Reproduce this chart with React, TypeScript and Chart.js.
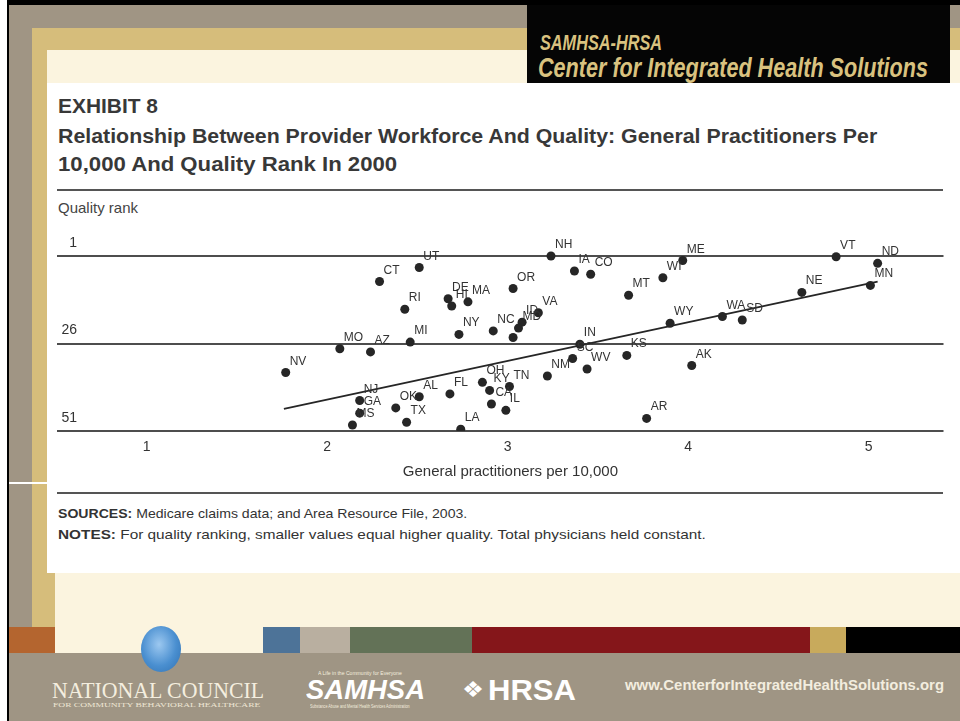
import React, { useEffect, useRef } from 'react';
import { Chart, registerables } from 'chart.js';

Chart.register(...registerables);

// ---------------- data ----------------
const states = ['UT','CT','RI','DE','HI','MA','NY','MI','MO','AZ','NV','NJ','GA','MS','AL','OK','TX','FL','LA',
  'NH','IA','CO','OR','MT','WI','ME','VA','NC','ID','MD','PA','IN','SC','WV','NM','KS','OH','KY','TN','CA','IL','AR',
  'AK','WY','WA','SD','NE','VT','ND','MN'];
const unlabeledStates = ['PA'];
const gpPer10k = [2.51,2.29,2.43,2.67,2.69,2.78,2.73,2.46,2.07,2.24,1.77,2.18,2.18,2.14,2.51,2.38,2.44,2.68,2.74,
  3.24,3.37,3.46,3.03,3.67,3.86,3.97,3.17,2.92,3.08,3.06,3.03,3.40,3.36,3.44,3.22,3.66,2.86,2.90,3.01,2.91,2.99,3.77,
  4.02,3.90,4.19,4.30,4.63,4.82,5.05,5.01];
const qualityRank = [4.3,8.3,16.2,13.2,15.3,14.1,23.4,25.6,27.5,28.4,34.3,42.3,45.9,49.3,41.2,44.4,48.5,40.4,50.5,
  1.0,5.3,6.2,10.3,12.2,7.2,2.3,17.2,22.4,19.9,21.6,24.3,26.2,30.3,33.3,35.3,29.4,37.1,39.4,38.3,43.3,45.1,47.4,
  32.3,20.2,18.3,19.3,11.4,1.2,3.1,9.4];
const trendX = [1.76, 5.05];
const trendY = [44.7, 8.3];
const xTicks = [1, 2, 3, 4, 5];
const yTicks = [1, 26, 51];
const xTitle = 'General practitioners per 10,000';

const SANS = '"Liberation Sans", Arial, sans-serif';
const SERIF = '"Liberation Serif", "Times New Roman", serif';

// ---------------- text helper ----------------
let measureCtx: CanvasRenderingContext2D | null = null;
function textWidth(text: string, font: string) {
  if (!measureCtx) measureCtx = document.createElement('canvas').getContext('2d');
  measureCtx!.font = font;
  return measureCtx!.measureText(text).width;
}

type Seg = { t: string; b?: boolean };
function Txt(props: { segs: Seg[]; x: number; yc: number; w?: number; size: number; family?: string; color: string; italic?: boolean }) {
  const { segs, x, yc, w, size, color, italic } = props;
  const family = props.family || SANS;
  const natural = segs.reduce((a, s) => a + textWidth(s.t, `${italic ? 'italic ' : ''}${s.b ? 'bold' : 'normal'} ${size}px ${family}`), 0);
  const sx = w ? w / natural : 1;
  return (
    <div style={{ position: 'absolute', left: x, top: yc - size * 0.49, whiteSpace: 'pre', fontSize: size, lineHeight: `${size}px`,
      fontFamily: family, fontStyle: italic ? 'italic' : 'normal', color, transform: `scaleX(${sx})`, transformOrigin: 'left top' }}>
      {segs.map((s, i) => <span key={i} style={{ fontWeight: s.b ? 700 : 400 }}>{s.t}</span>)}
    </div>
  );
}

function Box(props: { x: number; y: number; w: number; h: number; c: string; extra?: React.CSSProperties }) {
  return <div style={{ position: 'absolute', left: props.x, top: props.y, width: props.w, height: props.h, background: props.c, ...(props.extra || {}) }} />;
}

// ---------------- chart ----------------
const labelPlugin = {
  id: 'stateLabels',
  afterDatasetsDraw(chart: any) {
    const meta = chart.getDatasetMeta(0);
    const ctx = chart.ctx as CanvasRenderingContext2D;
    ctx.save();
    ctx.font = `12px ${SANS}`;
    ctx.fillStyle = '#333';
    ctx.textAlign = 'left';
    ctx.textBaseline = 'alphabetic';
    meta.data.forEach((el: any, i: number) => {
      const t = states[i];
      if (unlabeledStates.includes(t)) return;
      ctx.fillText(t, el.x + 4, el.y - 8);
    });
    ctx.restore();
  },
};

function ScatterChart() {
  const ref = useRef<HTMLCanvasElement>(null);
  useEffect(() => {
    if (!ref.current) return;
    const chart = new Chart(ref.current, {
      type: 'scatter',
      data: {
        datasets: [
          {
            type: 'scatter',
            data: states.map((s, i) => ({ x: gpPer10k[i], y: qualityRank[i] })),
            backgroundColor: '#262626',
            borderWidth: 0,
            pointRadius: 4.5,
            pointHoverRadius: 4.5,
            order: 1,
          } as any,
          {
            type: 'line',
            data: trendX.map((x, i) => ({ x, y: trendY[i] })),
            borderColor: '#262626',
            borderWidth: 1.7,
            pointRadius: 0,
            fill: false,
            order: 2,
          } as any,
        ],
      },
      options: {
        responsive: false,
        animation: false,
        devicePixelRatio: 1,
        events: [],
        layout: { padding: { top: 10, left: 0, right: 0, bottom: 0 } },
        plugins: { legend: { display: false }, tooltip: { enabled: false } },
        scales: {
          x: {
            type: 'linear',
            min: 0.5,
            max: 5.415,
            afterBuildTicks: (s: any) => { s.ticks = xTicks.map((v) => ({ value: v })); },
            afterFit: (s: any) => { s.height = 54; s.paddingLeft = 0; s.paddingRight = 0; },
            grid: { display: false, drawTicks: false },
            border: { display: false },
            ticks: { font: { family: SANS, size: 14 }, color: '#333', padding: 8 },
            title: {
              display: true,
              text: '\u00a0\u00a0\u00a0\u00a0\u00a0' + xTitle,
              font: { family: SANS, size: 15 },
              color: '#333',
              padding: { top: 4, bottom: 4 },
            },
          },
          y: {
            type: 'linear',
            reverse: true,
            min: -5,
            max: 51,
            afterBuildTicks: (s: any) => { s.ticks = yTicks.map((v) => ({ value: v })); },
            afterFit: (s: any) => { s.width = 0; s.paddingTop = 0; s.paddingBottom = 0; s.paddingLeft = 0; s.paddingRight = 0; },
            grid: { color: '#4d4d4d', lineWidth: 2, drawTicks: false },
            border: { display: false },
            ticks: { mirror: true, crossAlign: 'far', padding: 5, labelOffset: -13, font: { family: SANS, size: 14 }, color: '#333' },
          },
        },
      } as any,
      plugins: [labelPlugin],
    });
    return () => chart.destroy();
  }, []);
  return <canvas ref={ref} width={896} height={260} style={{ position: 'absolute', left: 52, top: 225, width: 896, height: 260 }} />;
}

// ---------------- slide ----------------
export default function App() {
  const taupe = '#a09584';
  const gold = '#d6bd7b';
  const cream = '#fbf4df';
  const gText = '#d9c27f';
  return (
    <div style={{ position: 'absolute', left: 0, top: 0, width: 960, height: 721, overflow: 'hidden', background: cream }}>
      {/* frame */}
      <Box x={0} y={0} w={960} h={5} c="#000" />
      <Box x={0} y={0} w={7} h={721} c="#fff" />
      <Box x={7} y={0} w={2} h={721} c="#000" />
      <Box x={9} y={5} w={951} h={23} c={taupe} />
      <Box x={9} y={5} w={23} h={650} c={taupe} />
      <Box x={32} y={28} w={928} h={22} c={gold} />
      <Box x={32} y={28} w={15} h={599} c={gold} />
      <Box x={32} y={573} w={23} h={54} c={gold} />
      <Box x={9} y={482} w={38} h={2} c="#fff" />
      {/* header black box */}
      <Box x={527} y={5} w={423} h={78} c="#050505" />
      <Txt segs={[{ t: 'SAMHSA-HRSA', b: true }]} x={540} yc={43} w={122} size={22} color={gText} italic />
      <Txt segs={[{ t: 'Center for Integrated Health Solutions', b: true }]} x={538} yc={68} w={390} size={27} color={gText} italic />
      {/* white panel */}
      <Box x={47} y={83} w={913} h={490} c="#fff" />
      <Txt segs={[{ t: 'EXHIBIT 8', b: true }]} x={58} yc={106} w={100} size={20} color="#383838" />
      <Txt segs={[{ t: 'Relationship Between Provider Workforce And Quality: General Practitioners Per', b: true }]} x={58} yc={137} w={820} size={19.5} color="#383838" />
      <Txt segs={[{ t: '10,000 And Quality Rank In 2000', b: true }]} x={58} yc={165} w={340} size={19.5} color="#383838" />
      <Box x={57} y={189} w={886} h={2} c="#555" />
      <Txt segs={[{ t: 'Quality rank' }]} x={58} yc={208} w={80} size={14.5} color="#444" />
      <ScatterChart />
      <Box x={57} y={492} w={886} h={2} c="#555" />
      <Txt segs={[{ t: 'SOURCES:', b: true }, { t: ' Medicare claims data; and Area Resource File, 2003.' }]} x={58} yc={513} w={410} size={13} color="#333" />
      <Txt segs={[{ t: 'NOTES:', b: true }, { t: ' For quality ranking, smaller values equal higher quality. Total physicians held constant.' }]} x={58} yc={534} w={648} size={13} color="#333" />
      {/* bottom colour bars */}
      <Box x={9} y={627} w={46} h={26} c="#b4652f" />
      <Box x={263} y={627} w={37} h={26} c="#4d7398" />
      <Box x={300} y={627} w={50} h={26} c="#b9afa0" />
      <Box x={350} y={627} w={122} h={26} c="#637257" />
      <Box x={472} y={627} w={338} h={26} c="#85161a" />
      <Box x={810} y={627} w={36} h={26} c="#c8aa5c" />
      <Box x={846} y={627} w={114} h={26} c="#000" />
      {/* footer */}
      <Box x={9} y={653} w={951} h={68} c="#9f9584" />
      <Box x={141} y={626} w={40} h={46} c="#4a8fd0" extra={{ borderRadius: '50%', background: 'radial-gradient(ellipse at 45% 40%, #9cc8f0 0%, #4a8fd0 55%, #2f6fb0 100%)' }} />
      <Txt segs={[{ t: 'NATIONAL COUNCIL' }]} x={52} yc={690} w={213} size={24} family={SERIF} color="#f4eedf" />
      <Txt segs={[{ t: 'FOR COMMUNITY BEHAVIORAL HEALTHCARE' }]} x={53} yc={705} w={208} size={7} family={SERIF} color="#eee6d4" />
      <Txt segs={[{ t: 'A Life in the Community for Everyone' }]} x={318} yc={673} w={84} size={6} color="#f4eedf" />
      <Txt segs={[{ t: 'SAMHSA', b: true }]} x={306} yc={690} w={119} size={27} color="#ffffff" italic />
      <Txt segs={[{ t: 'Substance Abuse and Mental Health Services Administration' }]} x={310} yc={706} w={100} size={5} color="#f4eedf" />
      <Txt segs={[{ t: '\u2756' }]} x={462} yc={690} w={22} size={22} family='"DejaVu Sans", sans-serif' color="#ffffff" />
      <Txt segs={[{ t: 'HRSA', b: true }]} x={488} yc={690} w={88} size={30} color="#ffffff" />
      <Txt segs={[{ t: 'www.CenterforIntegratedHealthSolutions.org', b: true }]} x={625} yc={684} w={319} size={15} color="#f3eddf" />
    </div>
  );
}
